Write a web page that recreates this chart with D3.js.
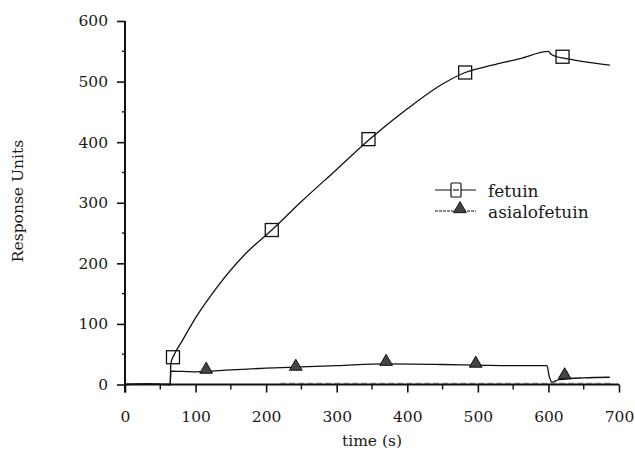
<!DOCTYPE html>
<html>
<head>
<meta charset="utf-8">
<script src="https://cdn.jsdelivr.net/npm/d3@7"></script>
<style>
  body { margin: 0; background: #fff; }
  svg text { font-family: "DejaVu Serif", serif; fill: #1a1a1a; }
</style>
</head>
<body>
<div id="chart"></div>
<script>
// sensorgram traces (time s, response units)
const fetuinTime = [0, 30, 63, 64, 65, 70, 80, 100, 130, 170, 208, 250, 300, 345, 400, 450, 482, 520, 560, 600, 603, 612, 620, 650, 687];
const fetuinRU   = [0, 1, 0, 0, 35, 50, 70, 110, 160, 215, 255, 302, 355, 403, 455, 496, 515, 527, 538, 550, 546, 541, 539, 533, 527];
const fetuinMarkTime = [68, 208, 345, 482, 620];
const fetuinMarkRU   = [45, 255, 405, 515, 541];

const asialoTime = [0, 30, 63, 64, 65, 100, 150, 200, 250, 300, 370, 450, 500, 560, 598, 601, 605, 615, 650, 687];
const asialoRU   = [0, 1, 0, 0, 22, 21, 24, 27, 29, 31, 34, 33, 32, 31, 31, 14, 4, 8, 11, 12];
const asialoMarkTime = [115, 242, 370, 497, 623];
const asialoMarkRU   = [23, 28, 36, 33, 14];

// reference channel, sits just above zero
const refTime = [220, 300, 400, 500, 600, 690];
const refRU   = [2, 2, 2, 2, 2, 2];

const xTicks = [0, 100, 200, 300, 400, 500, 600, 700];
const yTicks = [0, 100, 200, 300, 400, 500, 600];
const seriesNames = ["fetuin", "asialofetuin"];

const W = 635, H = 452;
const M = { LEFT: 125, RIGHT: 16, TOP: 21, BOTTOM: 67.5 };

const svg = d3.select("#chart").append("svg")
  .attr("width", W).attr("height", H);

const x = d3.scaleLinear().domain([0, 700]).range([M.LEFT, W - M.RIGHT]);
const y = d3.scaleLinear().domain([0, 600]).range([H - M.BOTTOM, M.TOP]);

// axes
const xAxis = svg.append("g")
  .attr("transform", `translate(0,${y(0)})`)
  .call(d3.axisBottom(x).tickValues(xTicks).tickSize(8).tickPadding(18));
xAxis.append("g").selectAll("line")
  .data(d3.range(50, 700, 100))
  .join("line")
  .attr("x1", d => x(d)).attr("x2", d => x(d))
  .attr("y1", 0).attr("y2", 5)
  .attr("stroke", "#111").attr("stroke-width", 1.4);

const yAxis = svg.append("g")
  .attr("transform", `translate(${x(0)},0)`)
  .call(d3.axisLeft(y).tickValues(yTicks).tickSize(8).tickPadding(9));
yAxis.append("g").selectAll("line")
  .data(d3.range(50, 600, 100))
  .join("line")
  .attr("y1", d => y(d)).attr("y2", d => y(d))
  .attr("x1", 0).attr("x2", -3)
  .attr("stroke", "#111").attr("stroke-width", 1.4);

[xAxis, yAxis].forEach(g => {
  g.select(".domain").attr("stroke", "#111").attr("stroke-width", 2);
  g.selectAll(".tick line").attr("stroke", "#111").attr("stroke-width", 1.6);
  g.selectAll(".tick text").style("font-size", "15.5px").attr("fill", "#1a1a1a");
});
xAxis.select(".domain").attr("d", `M${x(0)},0H${x(700)}`);
yAxis.select(".domain").attr("d", `M0,${y(600)}V${y(0) + 8}`);

// axis titles
svg.append("text")
  .attr("x", x(350)).attr("y", 446)
  .attr("text-anchor", "middle")
  .style("font-size", "15.5px")
  .text("time (s)");
svg.append("text")
  .attr("transform", "translate(23,201) rotate(-90)")
  .attr("text-anchor", "middle")
  .style("font-size", "15.5px")
  .text("Response Units");

// traces
const line = d3.line().x(d => x(d[0])).y(d => y(d[1])).curve(d3.curveMonotoneX);

svg.append("path")
  .datum(d3.zip(refTime, refRU))
  .attr("d", line)
  .attr("fill", "none").attr("stroke", "#555")
  .attr("stroke-width", 1).attr("stroke-dasharray", "6,3");

svg.append("path")
  .datum(d3.zip(fetuinTime, fetuinRU))
  .attr("d", line)
  .attr("fill", "none").attr("stroke", "#111").attr("stroke-width", 1.3);

svg.append("path")
  .datum(d3.zip(asialoTime, asialoRU))
  .attr("d", line)
  .attr("fill", "none").attr("stroke", "#111").attr("stroke-width", 1.3);

// markers
const sq = 13;
svg.append("g").selectAll("rect")
  .data(d3.zip(fetuinMarkTime, fetuinMarkRU))
  .join("rect")
  .attr("x", d => x(d[0]) - sq / 2).attr("y", d => y(d[1]) - sq / 2)
  .attr("width", sq).attr("height", sq)
  .attr("fill", "none").attr("stroke", "#111").attr("stroke-width", 1.3);

const tri = d3.symbol().type(d3.symbolTriangle).size(70);
svg.append("g").selectAll("path")
  .data(d3.zip(asialoMarkTime, asialoMarkRU))
  .join("path")
  .attr("transform", d => `translate(${x(d[0])},${y(d[1]) - 1})`)
  .attr("d", tri)
  .attr("fill", "#444").attr("stroke", "#111").attr("stroke-width", 1);

// legend
const legend = svg.append("g").attr("transform", "translate(435,190)");
seriesNames.forEach((name, i) => {
  const g = legend.append("g").attr("transform", `translate(0,${i * 21})`);
  g.append("line")
    .attr("x1", 0).attr("x2", 41).attr("y1", 0).attr("y2", 0)
    .attr("stroke", "#111").attr("stroke-width", 1.2)
    .attr("stroke-dasharray", i === 0 ? null : "3,1");
  if (i === 0) {
    g.append("rect")
      .attr("x", 16).attr("y", -7).attr("width", 10).attr("height", 14).attr("rx", 1)
      .attr("fill", "#fff").attr("stroke", "#111").attr("stroke-width", 1.2);
    g.append("line")
      .attr("x1", 18).attr("x2", 24).attr("y1", 0).attr("y2", 0)
      .attr("stroke", "#111").attr("stroke-width", 1.2);
  } else {
    g.append("path")
      .attr("transform", "translate(25,-2)")
      .attr("d", tri)
      .attr("fill", "#444").attr("stroke", "#111").attr("stroke-width", 1);
  }
  g.append("text")
    .attr("x", 53).attr("y", 7)
    .style("font-size", "17px")
    .text(name);
});
</script>
</body>
</html>
